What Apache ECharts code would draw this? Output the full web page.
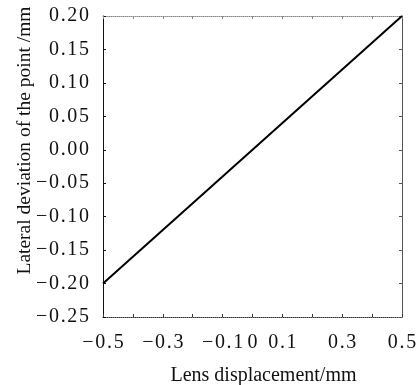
<!DOCTYPE html>
<html>
<head>
<meta charset="utf-8">
<script src="https://cdn.jsdelivr.net/npm/echarts@6/dist/echarts.min.js"></script>
<style>
  html, body { margin: 0; padding: 0; background: #fff; }
  #main { width: 419px; height: 385px; }
</style>
</head>
<body>
<div id="main"></div>
<script>
// data
const lensX = [-0.5, -0.3, -0.1, 0, 0.1, 0.3, 0.5]
const deviationY = [-0.2, -0.12, -0.04, 0, 0.04, 0.12, 0.2]
const xTickLabels = [-0.5, -0.3, -0.1, 0, 0.1, 0.3, 0.5]

const font = "Liberation Serif"

// spread characters a bit, the original print uses wide tracking
function spaced(s) {
  return s.replace("-", "\u2212").split("").join("\u200A")
}

const chart = echarts.init(document.getElementById("main"))
const option = {
  animation: false,
  backgroundColor: "#fff",
  grid: { left: 103, right: 17, top: 16, bottom: 68, outerBoundsMode: "none", containLabel: false },
  xAxis: [
    {
      type: "value",
      min: -0.5,
      max: 0.5,
      interval: 0.1,
      name: "Lens displacement/mm",
      nameLocation: "middle",
      nameGap: 49,
      nameTextStyle: { fontFamily: font, fontSize: 20, color: "#111", padding: [0, 0, 0, 22] },
      axisLine: { onZero: false, lineStyle: { color: "#333", type: "dotted", width: 1 } },
      axisTick: { inside: true, length: 3, lineStyle: { color: "#333" } },
      splitLine: { show: false },
      axisLabel: {
        fontFamily: font,
        fontSize: 20,
        color: "#111",
        margin: 16,
        formatter: function (v) {
          const r = Math.round(v * 10) / 10
          if (xTickLabels.indexOf(r) < 0) return ""
          return spaced(r === 0 ? "0" : r.toFixed(1))
        }
      }
    },
    {
      type: "value",
      position: "top",
      min: -0.5,
      max: 0.5,
      interval: 0.1,
      axisLine: { onZero: false, lineStyle: { color: "#888", type: "dotted", width: 1 } },
      axisTick: { inside: true, length: 3, lineStyle: { color: "#888" } },
      axisLabel: { show: false },
      splitLine: { show: false }
    }
  ],
  yAxis: [
    {
      type: "value",
      min: -0.25,
      max: 0.2,
      interval: 0.05,
      name: "Lateral deviation of the point /mm",
      nameLocation: "middle",
      nameGap: 68,
      nameMoveOverlap: false,
      nameTextStyle: { fontFamily: font, fontSize: 19.5, color: "#111", padding: [0, 0, 0, 52] },
      axisLine: { show: true, onZero: false, lineStyle: { color: "#111", width: 1 } },
      axisTick: { inside: true, length: 3, lineStyle: { color: "#111" } },
      splitLine: { show: false },
      axisLabel: {
        fontFamily: font,
        fontSize: 20,
        color: "#111",
        margin: 14,
        formatter: function (v) {
          return spaced((Math.round(v * 100) / 100).toFixed(2))
        }
      }
    },
    {
      type: "value",
      position: "right",
      min: -0.25,
      max: 0.2,
      interval: 0.05,
      axisLine: { show: true, onZero: false, lineStyle: { color: "#555", width: 1 } },
      axisTick: { inside: true, length: 3, lineStyle: { color: "#555" } },
      axisLabel: { show: false },
      splitLine: { show: false }
    }
  ],
  series: [
    {
      type: "line",
      data: lensX.map((x, i) => [x, deviationY[i]]),
      symbol: "none",
      lineStyle: { color: "#000", width: 2 }
    }
  ]
}
chart.setOption(option)
</script>
</body>
</html>
